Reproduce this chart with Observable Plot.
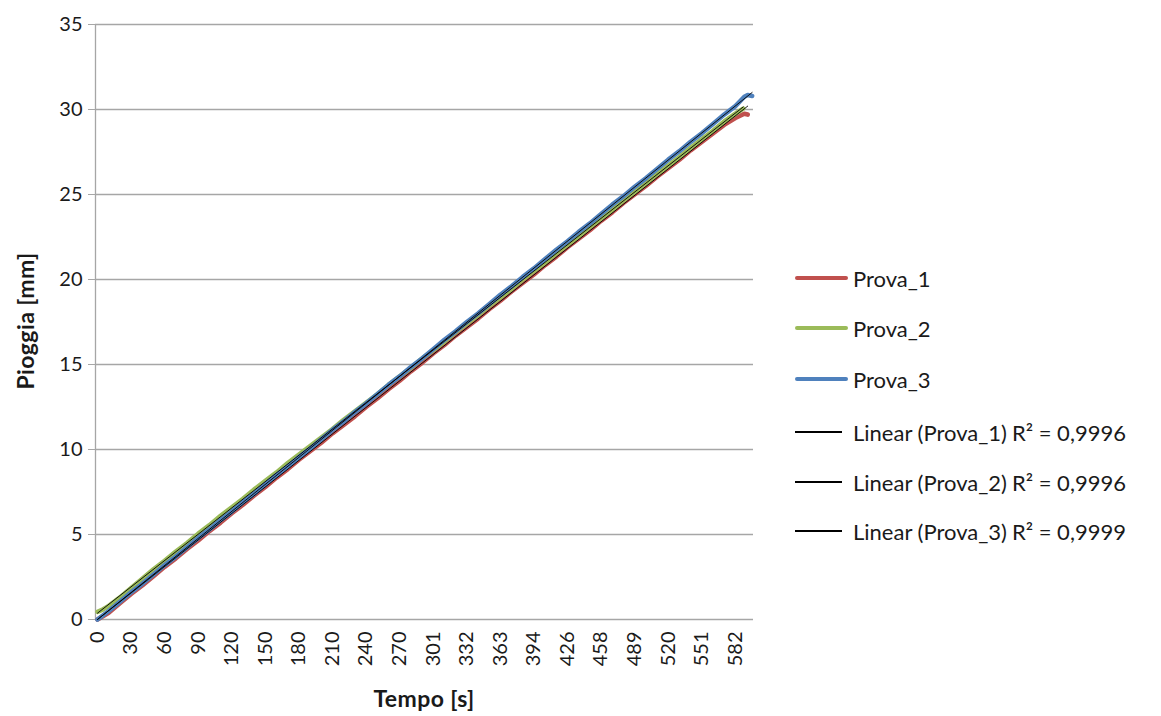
<!DOCTYPE html>
<html>
<head>
<meta charset="utf-8">
<script src="https://cdn.jsdelivr.net/npm/d3@7"></script>
<script src="https://cdn.jsdelivr.net/npm/@observablehq/plot@0.6"></script>
<style>
  html, body { margin: 0; padding: 0; background: white; }
  #wrap { position: relative; width: 1161px; height: 716px; font-family: Lato, "Open Sans", sans-serif; color: #1a1a1a; }
  .lg { position: absolute; left: 795px; height: 30px; display: flex; align-items: center; font-size: 22px; white-space: nowrap; }
  .sw { display: inline-block; width: 53px; height: 4px; border-radius: 2px; margin-right: 5px; }
  .swt { display: inline-block; width: 47px; height: 1.2px; background: #000; margin-right: 11px; }
  .r2 { margin-left: 5px; }
  .ttl { position: absolute; font-weight: bold; font-size: 23px; letter-spacing: 0.4px; white-space: nowrap; }
</style>
</head>
<body>
<div id="wrap"></div>
<script>
// Category positions (Excel category axis) and their time labels
const tickIdx  = [0,30,60,90,120,150,180,210,240,270,300,330,360,390,420,450,480,510,540,570];
const tickTime = [0,30,60,90,120,150,180,210,240,270,301,332,363,394,426,458,489,520,551,582];
const yTicks = [0,5,10,15,20,25,30,35];

const seriesNames = ["Prova_1", "Prova_2", "Prova_3"];
const seriesColors = ["#C0504D", "#9BBB59", "#4F81BD"];
const r2Labels = ["R² = 0,9996", "R² = 0,9996", "R² = 0,9999"];

// sampled category index (every 10 categories) + tails
const idx1 = [0,10,20,30,40,50,60,70,80,90,100,110,120,130,140,150,160,170,180,190,200,210,220,230,240,250,260,270,280,290,300,310,320,330,340,350,360,370,380,390,400,410,420,430,440,450,460,470,480,490,500,510,520,530,540,550,560,570,578,581];
const prova1 = [0.0,0.4,0.95,1.5,2.0,2.55,3.1,3.6,4.15,4.65,5.2,5.7,6.25,6.75,7.3,7.8,8.35,8.85,9.4,9.9,10.4,10.95,11.45,11.95,12.5,13.0,13.55,14.05,14.6,15.1,15.65,16.15,16.7,17.2,17.7,18.25,18.75,19.3,19.8,20.3,20.85,21.35,21.9,22.4,22.9,23.45,23.95,24.5,25.0,25.5,26.05,26.55,27.05,27.6,28.1,28.6,29.1,29.5,29.75,29.7];

const idx2 = [0,5,10,20,30,40,50,60,70,80,90,100,110,120,130,140,150,160,170,180,190,200,210,220,230,240,250,260,270,280,290,300,310,320,330,340,350,360,370,380,390,400,410,420,430,440,450,460,470,480,490,500,510,520,530,540,550,560,570,577];
const prova2 = [0.45,0.6,0.8,1.3,1.85,2.4,2.95,3.45,4.0,4.5,5.05,5.55,6.1,6.6,7.1,7.65,8.15,8.65,9.2,9.7,10.2,10.7,11.2,11.75,12.25,12.75,13.25,13.8,14.3,14.8,15.35,15.85,16.35,16.9,17.4,17.9,18.45,18.95,19.45,20.0,20.5,21.0,21.55,22.05,22.55,23.1,23.6,24.1,24.65,25.15,25.65,26.2,26.7,27.2,27.75,28.25,28.75,29.3,29.75,30.05];

const idx3 = [0,10,20,30,40,50,60,70,80,90,100,110,120,130,140,150,160,170,180,190,200,210,220,230,240,250,260,270,280,290,300,310,320,330,340,350,360,370,380,390,400,410,420,430,440,450,460,470,480,490,500,510,520,530,540,550,560,570,578,581,585];
const prova3 = [0.0,0.5,1.05,1.6,2.1,2.65,3.2,3.7,4.25,4.8,5.3,5.85,6.35,6.9,7.4,7.95,8.5,9.0,9.55,10.05,10.6,11.15,11.65,12.2,12.7,13.25,13.8,14.3,14.85,15.35,15.9,16.45,16.95,17.5,18.0,18.55,19.1,19.6,20.15,20.65,21.2,21.75,22.25,22.8,23.3,23.85,24.4,24.9,25.45,25.95,26.5,27.05,27.55,28.1,28.6,29.15,29.7,30.2,30.75,30.85,30.8];

const idxs = [idx1, idx2, idx3];
const vals = [prova1, prova2, prova3];
const rows = [];
seriesNames.forEach((s, k) => idxs[k].forEach((i, j) => rows.push({series: s, i, v: vals[k][j]})));

const timeOf = new Map(tickIdx.map((i, k) => [i, tickTime[k]]));
const grid = "#a6a6a6";

const chart = Plot.plot({
  width: 1161,
  height: 716,
  marginLeft: 95,
  marginRight: 408,
  marginTop: 24,
  marginBottom: 97,
  x: {domain: [-1.8, 586.2]},
  y: {domain: [0, 35]},
  style: {fontFamily: "Lato, 'Open Sans', sans-serif", fontSize: "20px", color: "#1a1a1a", background: "white"},
  marks: [
    Plot.ruleY(yTicks, {stroke: grid, strokeWidth: 1.3}),
    Plot.ruleX([-1.8], {stroke: grid, strokeWidth: 1.3}),
    Plot.axisY({ticks: yTicks, tickSize: 7, tickPadding: 6, stroke: grid, fill: "#1a1a1a", label: null, fontSize: 20}),
    Plot.axisX({ticks: tickIdx, tickFormat: d => timeOf.get(d), tickRotate: -90, tickSize: 0, tickPadding: 12, label: null, fontSize: 20, fill: "#1a1a1a"}),
    ...seriesNames.map((s, k) => Plot.line(rows.filter(r => r.series === s), {
      x: "i", y: "v", stroke: seriesColors[k], strokeWidth: 4.6, strokeLinejoin: "round", strokeLinecap: "round"
    })),
    Plot.linearRegressionY(rows, {x: "i", y: "v", z: "series", stroke: "#000", strokeWidth: 0.9, ci: 0})
  ]
});

const wrap = document.getElementById("wrap");
wrap.appendChild(chart);

// axis titles
const yt = document.createElement("div");
yt.className = "ttl";
yt.textContent = "Pioggia [mm]";
yt.style.left = "25px"; yt.style.top = "321px";
yt.style.transform = "translate(-50%,-50%) rotate(-90deg)";
wrap.appendChild(yt);

const xt = document.createElement("div");
xt.className = "ttl";
xt.textContent = "Tempo [s]";
xt.style.left = "424px"; xt.style.top = "684px";
xt.style.transform = "translateX(-50%)";
wrap.appendChild(xt);

// legend
const rowY = [278, 328, 379, 432, 482, 531];
seriesNames.forEach((s, k) => {
  const d = document.createElement("div");
  d.className = "lg";
  d.style.top = (rowY[k] - 15) + "px";
  d.innerHTML = `<span class="sw" style="background:${seriesColors[k]}"></span><span>${s}</span>`;
  wrap.appendChild(d);
});
seriesNames.forEach((s, k) => {
  const d = document.createElement("div");
  d.className = "lg";
  d.style.top = (rowY[k + 3] - 15) + "px";
  d.innerHTML = `<span class="swt"></span><span>Linear (${s})</span><span class="r2">${r2Labels[k]}</span>`;
  wrap.appendChild(d);
});
</script>
</body>
</html>
